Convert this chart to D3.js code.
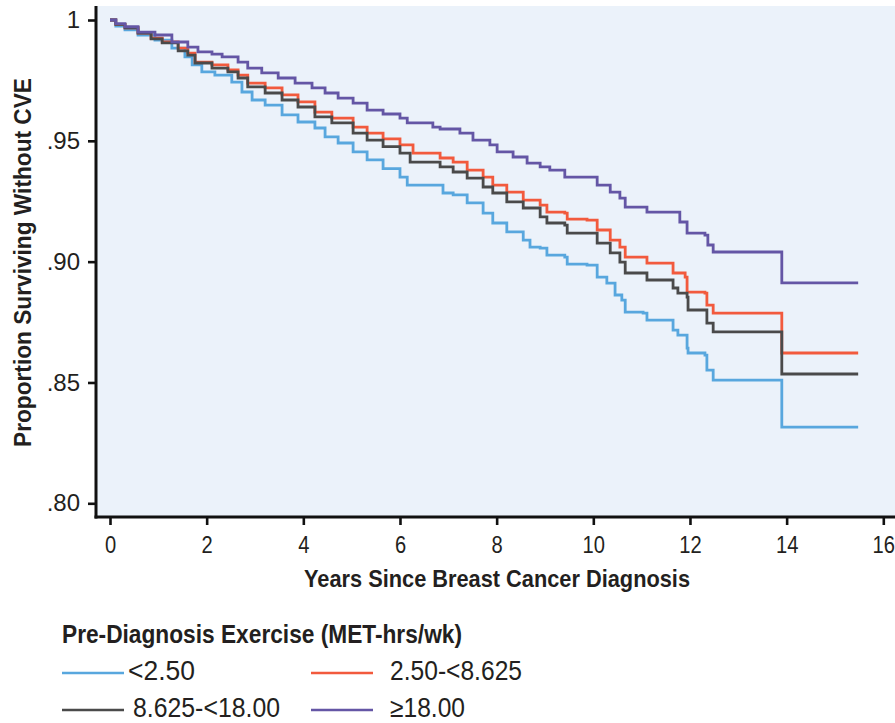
<!DOCTYPE html>
<html>
<head>
<meta charset="utf-8">
<script src="https://cdn.jsdelivr.net/npm/d3@7"></script>
<style>
  html, body { margin: 0; padding: 0; background: #fff; }
  svg { display: block; }
  text { font-family: "Liberation Sans", Arial, sans-serif; fill: #231f20; }
</style>
</head>
<body>
<svg id="chart" width="895" height="723"></svg>
<script>
// ---- Data ----
const seriesNames = ["<2.50", "2.50-<8.625", "8.625-<18.00", "\u226518.00"];
const seriesColors = ["#58a7de", "#f25a3d", "#4a4a4a", "#6456a5"];

// [years since diagnosis, proportion surviving without CVE]
const survLow = [
  [0,1.000],[0.12,0.9975],[0.31,0.9959],[0.58,0.9938],[0.93,0.9917],[1.28,0.9884],[1.55,0.9847],[1.70,0.9814],
  [1.90,0.9785],[2.17,0.9772],[2.52,0.9743],[2.73,0.9702],[2.94,0.9669],[3.21,0.9648],[3.56,0.9607],
  [3.89,0.9578],[4.24,0.9553],[4.45,0.9516],[4.72,0.9491],[5.03,0.9454],[5.32,0.9421],[5.65,0.9385],
  [6.00,0.9350],[6.15,0.9317],[6.89,0.9284],[7.10,0.9276],[7.39,0.9243],[7.72,0.9201],[7.92,0.9160],
  [8.21,0.9123],[8.55,0.9089],[8.69,0.9060],[8.90,0.9056],[9.04,0.9027],[9.41,0.9019],[9.46,0.8990],
  [9.87,0.8986],[10.08,0.8936],[10.28,0.8911],[10.45,0.8862],[10.59,0.8841],[10.66,0.8791],
  [11.03,0.8787],[11.11,0.8758],[11.63,0.8758],[11.65,0.8717],[11.75,0.8696],[11.94,0.8642],
  [11.96,0.8622],[12.31,0.8613],[12.35,0.8551],[12.48,0.8510],[13.90,0.8315],[15.48,0.8315]
];
const survMid = [
  [0,1.000],[0.12,0.9982],[0.31,0.9968],[0.58,0.9946],[0.85,0.9925],[1.08,0.9909],[1.41,0.9884],[1.61,0.9863],[1.76,0.9826],[2.11,0.9814],
  [2.44,0.9793],[2.65,0.9772],[2.85,0.9739],[3.21,0.9719],[3.56,0.9690],[3.89,0.9661],[4.24,0.9619],
  [4.59,0.9594],[5.03,0.9557],[5.32,0.9532],[5.65,0.9508],[6.00,0.9483],[6.27,0.9449],[6.83,0.9429],
  [7.10,0.9412],[7.39,0.9379],[7.72,0.9350],[7.92,0.9317],[8.21,0.9288],[8.55,0.9255],[8.90,0.9234],
  [9.04,0.9205],[9.41,0.9201],[9.46,0.9176],[9.87,0.9172],[10.08,0.9131],[10.35,0.9089],[10.55,0.9060],
  [10.66,0.9019],[11.11,0.8994],[11.63,0.8994],[11.65,0.8953],[11.90,0.8936],[11.94,0.8874],
  [12.31,0.8870],[12.35,0.8820],[12.48,0.8787],[13.90,0.8622],[15.48,0.8622]
];
const survHigh = [
  [0,1.000],[0.12,0.9982],[0.31,0.9968],[0.58,0.9946],[0.85,0.9922],[1.08,0.9905],[1.41,0.9872],[1.61,0.9855],[1.76,0.9822],[2.11,0.9801],
  [2.44,0.9785],[2.65,0.9760],[2.85,0.9723],[3.21,0.9698],[3.56,0.9669],[3.89,0.9640],[4.24,0.9599],
  [4.59,0.9574],[5.03,0.9532],[5.32,0.9503],[5.65,0.9476],[6.00,0.9449],[6.21,0.9412],[6.83,0.9392],
  [7.10,0.9371],[7.39,0.9346],[7.72,0.9309],[7.92,0.9284],[8.21,0.9247],[8.55,0.9222],[8.90,0.9185],
  [9.04,0.9160],[9.41,0.9151],[9.46,0.9118],[9.87,0.9118],[10.08,0.9077],[10.35,0.9036],[10.55,0.8998],
  [10.66,0.8953],[11.11,0.8924],[11.63,0.8924],[11.65,0.8891],[11.75,0.8870],[11.94,0.8853],
  [11.96,0.8800],[12.31,0.8800],[12.35,0.8746],[12.48,0.8709],[13.90,0.8535],[15.48,0.8535]
];
const survTop = [
  [0,1.000],[0.12,0.9985],[0.31,0.9972],[0.58,0.9950],[0.93,0.9938],[1.28,0.9909],[1.61,0.9888],[1.82,0.9868],[2.11,0.9859],
  [2.32,0.9847],[2.65,0.9826],[2.85,0.9801],[3.14,0.9781],[3.48,0.9760],[3.83,0.9739],[4.18,0.9719],
  [4.45,0.9698],[4.72,0.9677],[5.03,0.9656],[5.32,0.9627],[5.65,0.9611],[6.00,0.9594],[6.15,0.9574],
  [6.68,0.9557],[6.83,0.9549],[7.24,0.9532],[7.51,0.9503],[7.86,0.9483],[8.01,0.9454],[8.34,0.9433],
  [8.63,0.9408],[8.90,0.9392],[9.10,0.9379],[9.41,0.9350],[9.79,0.9350],[10.08,0.9317],[10.35,0.9288],
  [10.55,0.9263],[10.66,0.9226],[11.11,0.9205],[11.63,0.9205],[11.79,0.9164],[11.94,0.9118],
  [12.31,0.9110],[12.37,0.9069],[12.48,0.9040],[13.90,0.8912],[15.48,0.8912]
];
const seriesData = [survLow, survMid, survHigh, survTop];

const xTicks = [0, 2, 4, 6, 8, 10, 12, 14, 16];
const yTicks = [0.80, 0.85, 0.90, 0.95, 1.00];
const yTickLabels = [".80", ".85", ".90", ".95", "1"];

const xTitle = "Years Since Breast Cancer Diagnosis";
const yTitle = "Proportion Surviving Without CVE";
const legendTitle = "Pre-Diagnosis Exercise (MET-hrs/wk)";

// ---- Layout ----
const svg = d3.select("#chart");
const plot = { left: 96, right: 895, top: 6, bottom: 517 };

const x = d3.scaleLinear().domain([0, 16]).range([110, 883.3]);
const y = d3.scaleLinear().domain([0.80, 1.00]).range([503.3, 20]);

// condensed-look helper: squeeze text horizontally to a measured width
function fitWidth(sel, w) {
  sel.attr("textLength", w).attr("lengthAdjust", "spacingAndGlyphs");
}

// background
svg.append("rect")
  .attr("x", plot.left).attr("y", plot.top)
  .attr("width", plot.right - plot.left).attr("height", plot.bottom - plot.top)
  .attr("fill", "#ebf2fa");

// curves
const line = d3.line()
  .x(d => x(d[0]))
  .y(d => y(d[1]))
  .curve(d3.curveStepAfter);

seriesData.forEach((s, i) => {
  svg.append("path")
    .datum(s)
    .attr("d", line)
    .attr("fill", "none")
    .attr("stroke", seriesColors[i])
    .attr("stroke-width", 2.8)
    .attr("stroke-linejoin", "miter");
});

// X axis
const xAxis = d3.axisBottom(x)
  .tickValues(xTicks)
  .tickFormat(d3.format("d"))
  .tickSize(8)
  .tickSizeOuter(0)
  .tickPadding(11);
const gx = svg.append("g")
  .attr("transform", `translate(0,${plot.bottom})`)
  .call(xAxis);
gx.select(".domain").remove();
gx.selectAll(".tick line").attr("stroke", "#111").attr("stroke-width", 2.6);
gx.selectAll(".tick text")
  .attr("fill", "#231f20")
  .attr("transform", "scale(0.84,1)")
  .style("font-family", '"Liberation Sans", sans-serif')
  .style("font-size", "24px");

// Y axis
const yAxis = d3.axisLeft(y)
  .tickValues(yTicks)
  .tickFormat((d, i) => yTickLabels[i])
  .tickSize(8)
  .tickSizeOuter(0)
  .tickPadding(8);
const gy = svg.append("g")
  .attr("transform", `translate(${plot.left},0)`)
  .call(yAxis);
gy.select(".domain").remove();
gy.selectAll(".tick line").attr("stroke", "#111").attr("stroke-width", 2.6);
gy.selectAll(".tick text")
  .attr("fill", "#231f20")
  .style("font-family", '"Liberation Sans", sans-serif')
  .style("font-size", "24px");

// axis lines
svg.append("line")
  .attr("x1", plot.left).attr("x2", plot.left)
  .attr("y1", plot.top).attr("y2", plot.bottom + 1.5)
  .attr("stroke", "#111").attr("stroke-width", 3);
svg.append("line")
  .attr("x1", plot.left - 1.5).attr("x2", plot.right)
  .attr("y1", plot.bottom).attr("y2", plot.bottom)
  .attr("stroke", "#111").attr("stroke-width", 3);

// axis titles
svg.append("text")
  .attr("x", 304).attr("y", 587)
  .style("font-size", "24px").style("font-weight", "bold")
  .text(xTitle)
  .call(fitWidth, 386);

svg.append("text")
  .attr("transform", `translate(31,447) rotate(-90)`)
  .style("font-size", "24px").style("font-weight", "bold")
  .text(yTitle)
  .call(fitWidth, 369);

// legend
svg.append("text")
  .attr("x", 62).attr("y", 643)
  .style("font-size", "25px").style("font-weight", "bold")
  .text(legendTitle)
  .call(fitWidth, 400);

const legendPos = [
  { lx: 62, ly: 673, tx: 128, tw: 67 }, { lx: 311, ly: 673, tx: 390, tw: 132 },
  { lx: 62, ly: 710, tx: 133, tw: 147 }, { lx: 311, ly: 710, tx: 390, tw: 75 }
];
seriesNames.forEach((name, i) => {
  const p = legendPos[i];
  svg.append("line")
    .attr("x1", p.lx).attr("x2", p.lx + 62)
    .attr("y1", p.ly).attr("y2", p.ly)
    .attr("stroke", seriesColors[i]).attr("stroke-width", 2.6);
  svg.append("text")
    .attr("x", p.tx).attr("y", p.ly + 7)
    .style("font-size", "27px")
    .text(name)
    .call(fitWidth, p.tw);
});
</script>
</body>
</html>
